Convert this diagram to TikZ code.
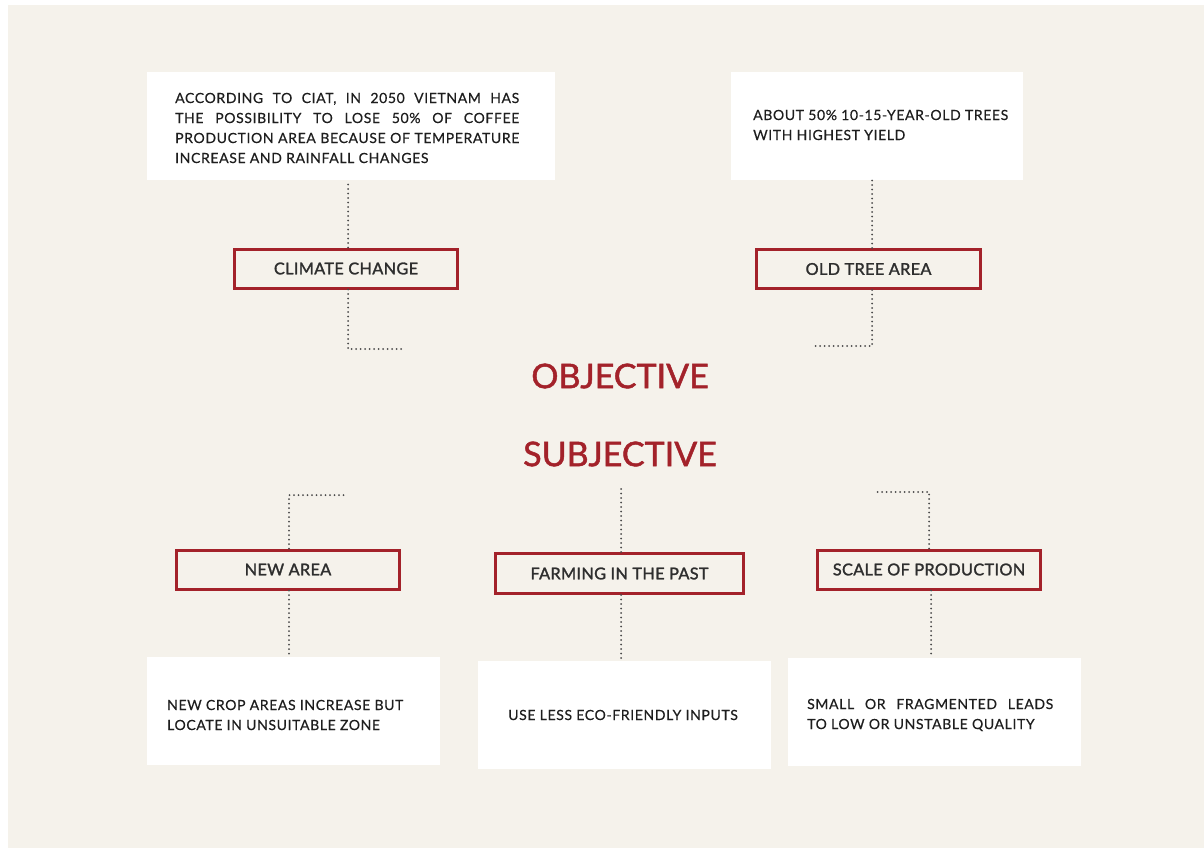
\documentclass[tikz,border=0pt]{standalone}
\usepackage{fontspec}
\setmainfont{Lato}
\newfontfamily\bodyfont{Lato}[LetterSpace=4.5,FakeBold=0.4]
\newfontfamily\tagfont{Lato}[LetterSpace=2,FakeBold=1.6]
\newfontfamily\headfont{Lato}[FakeBold=1.4]
% a line set to a fixed width, its word spaces stretched evenly
\newcommand{\fullline}[2]{\hbox to #1{\spaceskip=0.25em plus 1fil\relax #2}}
\begin{document}
\begin{tikzpicture}[x=1pt,y=-1pt,
  paper/.style={fill=cream,draw=none},
  card/.style={fill=white,draw=none,inner sep=0pt,minimum height=108pt},
  cardtext/.style={inner sep=0pt,align=left,text=inkgray,font=\bodyfont\fontsize{14}{20}\selectfont},
  tag/.style={draw=tagred,line width=3pt,fill=cream,inner sep=0pt,minimum width=223pt,
    minimum height=39pt,text=labelgray,font=\tagfont\fontsize{16.3}{18}\selectfont},
  headline/.style={text=tagred,font=\headfont\fontsize{34}{40}\selectfont,inner sep=0pt},
  dotline/.style={draw=dotgray,line width=2pt,dash pattern=on 0pt off 4.5pt,line cap=round}
]
\definecolor{cream}{HTML}{F5F2EB}
\definecolor{tagred}{HTML}{A3222A}
\definecolor{inkgray}{HTML}{1E1E1E}
\definecolor{labelgray}{HTML}{2E2E2E}
\definecolor{dotgray}{HTML}{4A4A4A}

\useasboundingbox (0,0) rectangle (1204,848);
\fill[white] (0,0) rectangle (1204,848);
\path[paper] (8,5) rectangle (1204,848);

% white cards
\node[card,minimum width=408pt] (ciat) at (351,126) {};
\node[card,minimum width=292pt] (trees) at (877,126) {};
\node[card,minimum width=293pt] (crop) at (293.5,711) {};
\node[card,minimum width=293pt] (inputs) at (624.5,715) {};
\node[card,minimum width=293pt] (small) at (934.5,711.5) {};

% card texts
\node[cardtext,anchor=west] (ciattext) at (175,128)
  {\fullline{344pt}{ACCORDING TO CIAT, IN 2050 VIETNAM HAS}\\
   \fullline{344pt}{THE POSSIBILITY TO LOSE 50\% OF COFFEE}\\
   \fullline{344pt}{PRODUCTION AREA BECAUSE OF TEMPERATURE}\\
   INCREASE AND RAINFALL CHANGES};
\node[cardtext,anchor=west] (treestext) at (753,125)
  {ABOUT 50\% 10-15-YEAR-OLD TREES\\WITH HIGHEST YIELD};
\node[cardtext,anchor=west] (croptext) at (167,715)
  {NEW CROP AREAS INCREASE BUT\\LOCATE IN UNSUITABLE ZONE};
\node[cardtext] (inputstext) at (623,715) {USE LESS ECO-FRIENDLY INPUTS};
\node[cardtext,anchor=west] (smalltext) at (807,715)
  {\fullline{246pt}{SMALL OR FRAGMENTED LEADS}\\TO LOW OR UNSTABLE QUALITY};

% labelled boxes
\node[tag] (climate) at (346,268.5) {CLIMATE CHANGE};
\node[tag,minimum width=224pt] (oldtree) at (868.5,269) {OLD TREE AREA};
\node[tag] (newarea) at (288,569.5) {NEW AREA};
\node[tag,minimum width=248pt,minimum height=40pt] (farming) at (619.5,573.5) {FARMING IN THE PAST};
\node[tag] (scale) at (929,569.5) {SCALE OF PRODUCTION};

\node[headline] (objective) at (620,376) {OBJECTIVE};
\node[headline] (subjective) at (620,454) {SUBJECTIVE};

% free ends of the connectors
\coordinate (climateend) at (402,349);
\coordinate (treeend) at (815,346);
\coordinate (newend) at (345,495);
\coordinate (farmend) at (621,487);
\coordinate (scaleend) at (875,492);

% connectors
\draw[dotline] (climate.north -| 348,0) -- (348,0 |- ciat.south);
\draw[dotline] (climate.south -| 348,0) |- (climateend);
\draw[dotline] (oldtree.north -| 872,0) -- (872,0 |- trees.south);
\draw[dotline] (oldtree.south -| 872,0) |- (treeend);

\draw[dotline] (newarea.north -| 289,0) |- (newend);
\draw[dotline] (newarea.south -| 289,0) -- (289,0 |- crop.north);
\draw[dotline] (farming.north -| 621,0) -- (farmend);
\draw[dotline] (farming.south -| 621,0) -- (621,0 |- inputs.north);
\draw[dotline] (scale.north -| 929,0) |- (scaleend);
\draw[dotline] (scale.south -| 931,0) -- (931,0 |- small.north);
\end{tikzpicture}
\end{document}
